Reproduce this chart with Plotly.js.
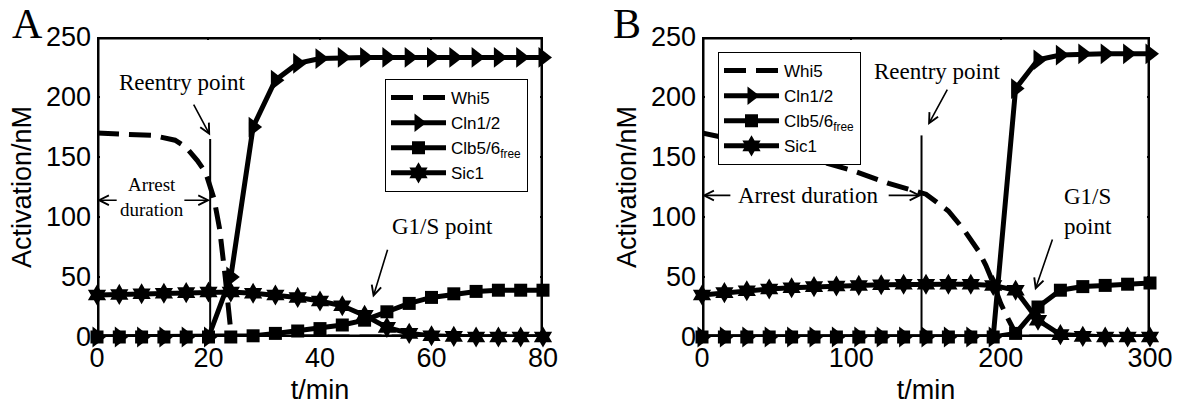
<!DOCTYPE html>
<html><head><meta charset="utf-8">
<script src="https://cdn.plot.ly/plotly-3.0.1.min.js"></script>
<style>body{margin:0;padding:0;background:#fff}#chart{width:1179px;height:405px}</style>
</head><body><div id="chart"></div>
<script>
// ---------- Panel A data ----------
const tA      = [0,4,8,12,16,20,24,28,32,36,40,44,48,52,56,60,64,68,72,76,80];
const whi5A_t = [0,5,10,14,16,18,19.5,21,22,23,24,25,80];
const whi5A   = [170,169.5,168,164,158,147,137,115,90,50,5,0,0];
const cln12A  = [0,0,0,0,0,0,50,175,214,228,232,233,233,233,233,233,233,233,233,233,233];
const clb56A  = [0,0,0,0,0,0,0,1,3,5,7,10,14,21,28,33,36,38,39,39,39];
const sic1A   = [35,35.5,36,36.5,37,37.5,37.5,36.5,35,33,30,26,18,8,3,1,0.5,0,0,0,0];
// ---------- Panel B data ----------
const tB      = [0,15,30,45,60,75,90,105,120,135,150,165,180,195,210,225,240,255,270,285,300];
const whi5B_t = [0,25,50,75,100,125,150,165,175,185,190,195,200,205,210,213,300];
const whi5B   = [170,164,157,148,139,128,119,105,90,72,60,45,28,15,3,0,0];
const cln12B  = [0,0,0,0,0,0,0,0,0,0,0,0,0,0,207,231,235,236,236,236,236];
const clb56B  = [0,0,0,0,0,0,0,0,0,0,0,0,0,0,3,25,39,42,43,44,45];
const sic1B   = [35,37,38.5,40,41,42,42.5,43,43.5,44,44,44,44,43,39,14,2,0.5,0,0,0];
// ---------- Labels / annotation values ----------
const seriesNames = ['Whi5','Cln1/2','Clb5/6<sub>free</sub>','Sic1'];
const xTicksA = [0,20,40,60,80], xTicksB = [0,100,200,300], yTicks = [0,50,100,150,200,250];
const reentryA = {t:20.3, top:165}, reentryB = {t:147, top:168};
const arrestA_y = 114, arrestB_y = 118;

const SANS = 'Liberation Sans, Arial, sans-serif';
const SERIF = 'Liberation Serif, Times New Roman, serif';

function series(xs, ys, name, sym, size, xa, ya, leg, dash){
  const tr = {x: xs, y: ys, name: name, xaxis: xa, yaxis: ya, legend: leg,
    type:'scatter', cliponaxis:false,
    line:{color:'#000', width:5}};
  if (dash){ tr.mode='lines'; tr.line.dash = dash; }
  else { tr.mode='lines+markers'; tr.marker={symbol:sym, size:size, color:'#000', line:{width:0}}; }
  return tr;
}
const data = [
  series(whi5A_t, whi5A, seriesNames[0], null, 0, 'x','y','legend','22px,10px'),
  series(tA, cln12A, seriesNames[1], 'triangle-right', 18, 'x','y','legend'),
  series(tA, clb56A, seriesNames[2], 'square', 13, 'x','y','legend'),
  series(tA, sic1A, seriesNames[3], 'hexagram', 16, 'x','y','legend'),
  series(whi5B_t, whi5B, seriesNames[0], null, 0, 'x2','y2','legend2','22px,10px'),
  series(tB, cln12B, seriesNames[1], 'triangle-right', 18, 'x2','y2','legend2'),
  series(tB, clb56B, seriesNames[2], 'square', 13, 'x2','y2','legend2'),
  series(tB, sic1B, seriesNames[3], 'hexagram', 16, 'x2','y2','legend2')
];

function xax(dom, rng, tv, anchor){
  return {domain:dom, range:rng, anchor:anchor, tickvals:tv, ticks:'inside', ticklen:3, tickwidth:2,
    tickcolor:'#000', mirror:'ticks', showline:false, showgrid:false, zeroline:false,
    ticklabelstandoff:2,
    tickfont:{family:SANS, size:27, color:'#000'},
    title:{text:'t/min', font:{family:SANS, size:27, color:'#000'}, standoff:8}};
}
function yax(anchor){
  return {domain:[0.1679,0.9086], range:[0,250], anchor:anchor, tickvals:yTicks, ticks:'inside', ticklen:3, tickwidth:2,
    tickcolor:'#000', mirror:'ticks', showline:false, showgrid:false, zeroline:false,
    ticklabelstandoff:5,
    tickfont:{family:SANS, size:27, color:'#000'},
    title:{text:'Activation/nM', font:{family:SANS, size:27, color:'#000'}, standoff:6}};
}
function legend(x, y){
  return {x:x, y:y, xanchor:'left', yanchor:'top', bgcolor:'#fff', bordercolor:'#000', borderwidth:1,
    font:{family:SANS, size:17, color:'#000'}, itemwidth:55, tracegroupgap:0};
}

const shapes = [
  {type:'rect', xref:'x', yref:'y', x0:0, x1:80, y0:0, y1:250, line:{color:'#000', width:5}, layer:'above'},
  {type:'rect', xref:'x2', yref:'y2', x0:0, x1:300, y0:0, y1:250, line:{color:'#000', width:5}, layer:'above'},
  {type:'line', xref:'x', yref:'y', x0:reentryA.t, x1:reentryA.t, y0:0, y1:reentryA.top, line:{color:'#000', width:2}},
  {type:'line', xref:'x2', yref:'y2', x0:reentryB.t, x1:reentryB.t, y0:0, y1:reentryB.top, line:{color:'#000', width:2}}
];

function txt(x, y, xr, yr, s, size){
  return {x:x, y:y, xref:xr, yref:yr, text:s, showarrow:false, font:{family:SERIF, size:size, color:'#000'}, xanchor:'center', yanchor:'middle'};
}
function arr(x, y, ax, ay, xr, yr){
  return {x:x, y:y, ax:ax, ay:ay, xref:xr, yref:yr, axref:xr, ayref:yr, text:'', showarrow:true,
    arrowhead:5, arrowsize:1.2, arrowwidth:1.6, arrowcolor:'#000', standoff:0, startstandoff:0};
}
const panelFont = {family:SERIF, size:42, color:'#000'};
const annotations = [
  {x:27/1179, y:(405-24)/405, xref:'paper', yref:'paper', xanchor:'center', yanchor:'middle', text:'A', showarrow:false, font:panelFont},
  {x:627/1179, y:(405-24)/405, xref:'paper', yref:'paper', xanchor:'center', yanchor:'middle', text:'B', showarrow:false, font:panelFont},
  // Panel A
  txt(15.2, 212, 'x','y', 'Reentry point', 23),
  arr(reentryA.t, 168, 17.2, 195, 'x','y'),
  txt(9.9, 117, 'x','y', 'Arrest<br>duration', 19),
  arr(0, arrestA_y, 3.8, arrestA_y, 'x','y'),
  arr(reentryA.t, arrestA_y, 15.4, arrestA_y, 'x','y'),
  txt(62, 92, 'x','y', 'G1/S point', 23),
  arr(49.5, 33, 52.2, 74, 'x','y'),
  // Panel B
  txt(157.4, 221, 'x2','y2', 'Reentry point', 23),
  arr(151.4, 176.7, 164.8, 207.5, 'x2','y2'),
  txt(71, arrestB_y, 'x2','y2', 'Arrest duration', 23),
  arr(0, arrestB_y, 20, arrestB_y, 'x2','y2'),
  arr(reentryB.t, arrestB_y, 124, arrestB_y, 'x2','y2'),
  txt(258.5, 105, 'x2','y2', 'G1/S<br>point', 23),
  arr(223, 39, 235, 82.5, 'x2','y2')
];

const layout = {
  width:1179, height:405, margin:{l:0,r:0,t:0,b:0}, paper_bgcolor:'#fff', plot_bgcolor:'#fff',
  showlegend:true,
  xaxis: xax([0.08227,0.46056],[0,80],xTicksA,'y'),
  yaxis: yax('x'),
  xaxis2: xax([0.59542,0.97540],[0,300],xTicksB,'y2'),
  yaxis2: yax('x2'),
  legend: legend(385/1179, (405-79)/405),
  legend2: legend(718/1179, (405-52)/405),
  shapes: shapes, annotations: annotations
};
Plotly.newPlot('chart', data, layout, {staticPlot:true, displayModeBar:false});
</script></body></html>
